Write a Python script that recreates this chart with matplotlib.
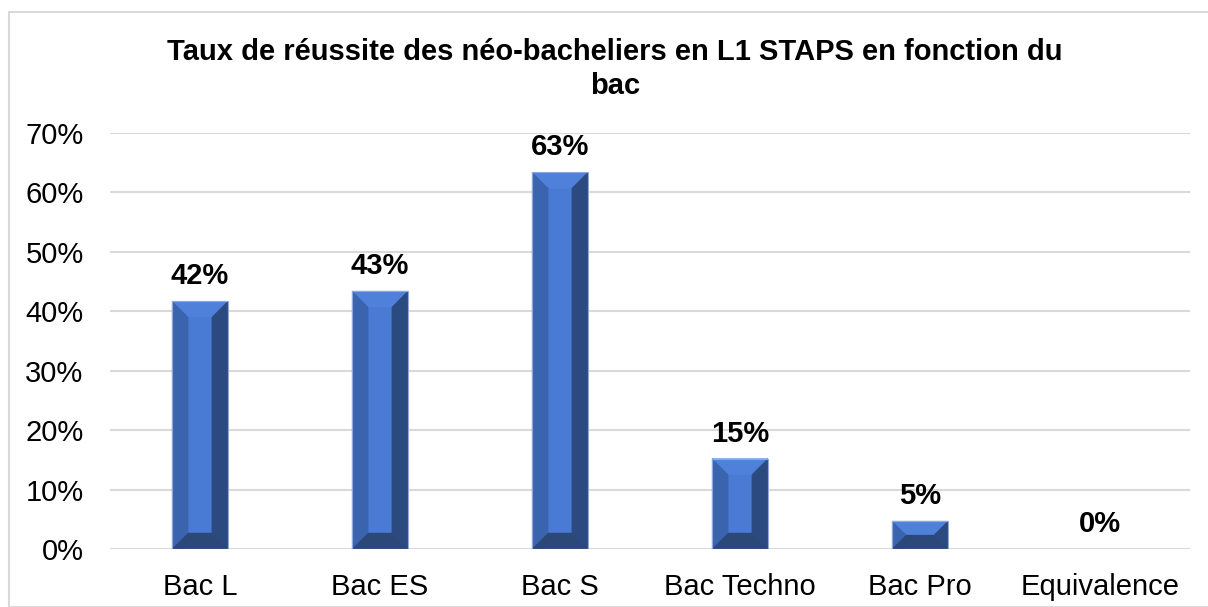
import matplotlib
matplotlib.use("Agg")
import matplotlib.pyplot as plt
from matplotlib.patches import Polygon, Rectangle
from matplotlib.ticker import PercentFormatter

plt.rcParams['font.family'] = ['Liberation Sans', 'DejaVu Sans']

categories = ["Bac L", "Bac ES", "Bac S", "Bac Techno", "Bac Pro", "Equivalence"]
values = [0.417, 0.434, 0.634, 0.152, 0.047, 0.0]
labels = ["42%", "43%", "63%", "15%", "5%", "0%"]
title = "Taux de réussite des néo-bacheliers en L1 STAPS en fonction du\nbac"

W, H = 1208, 607
fig = plt.figure(figsize=(W / 100, H / 100), dpi=100)
fig.patches.append(Rectangle((9 / W, 0), 1.2, (H - 12) / H, transform=fig.transFigure,
                             fill=False, edgecolor="#d9d9d9", linewidth=1.5))

ax = fig.add_axes([110 / W, (H - 549) / H, 1080 / W, 416 / H])
x = list(range(len(categories)))
bw = 0.31
bars = ax.bar(x, values, width=bw, color="#4a7bd4", zorder=2)
ax.set_xlim(-0.5, len(categories) - 0.5)
ax.set_ylim(0, 0.7)
ax.set_yticks([i / 10 for i in range(8)])
ax.yaxis.set_major_formatter(PercentFormatter(1.0, decimals=0))
ax.set_xticks(x)
ax.set_xticklabels(categories)
ax.tick_params(axis="both", length=0, labelsize=21, colors="black")
ax.tick_params(axis="y", pad=19)
ax.tick_params(axis="x", pad=17)
ax.grid(axis="y", color="#d9d9d9", linewidth=1.5, zorder=0)
ax.set_axisbelow(True)
for s in ax.spines.values():
    s.set_visible(False)

# bevel geometry (pixels -> data units)
px_x = 1080 / (len(categories))  # px per unit x
px_y = 416 / 0.7                  # px per unit y
bev = 16
top_c = "#4f80da"
left_c = "#3b64ae"
right_c = "#2b4a80"
bot_c = "#2c4878"
for rect in bars:
    x0 = rect.get_x()
    x1 = x0 + rect.get_width()
    y0 = 0
    y1 = rect.get_height()
    if y1 <= 0:
        continue
    hpx = y1 * px_y
    bpx = min(bev, hpx / 2)
    bx = bpx / px_x
    by = bpx / px_y
    polys = [
        ([(x0, y1), (x1, y1), (x1 - bx, y1 - by), (x0 + bx, y1 - by)], top_c),
        ([(x0, y0), (x0, y1), (x0 + bx, y1 - by), (x0 + bx, y0 + by)], left_c),
        ([(x1, y0), (x1, y1), (x1 - bx, y1 - by), (x1 - bx, y0 + by)], right_c),
        ([(x0, y0), (x1, y0), (x1 - bx, y0 + by), (x0 + bx, y0 + by)], bot_c),
    ]
    for pts, c in polys:
        ax.add_patch(Polygon(pts, closed=True, facecolor=c, edgecolor=c, linewidth=0.3, zorder=3))
    ax.add_patch(Rectangle((x0, y0), x1 - x0, y1, fill=False, edgecolor="#8fa9dd",
                           linewidth=0.8, zorder=4))

for xi, v, lab in zip(x, values, labels):
    ax.annotate(lab, (xi, v), xytext=(0, 18), textcoords="offset points",
                ha="center", va="center", fontsize=21, fontweight="bold")

fig.text(615 / W, 1 - 69 / H, title, ha="center", va="center", fontsize=21,
         fontweight="bold", linespacing=1.25)

fig.savefig("out.png", dpi=100)
